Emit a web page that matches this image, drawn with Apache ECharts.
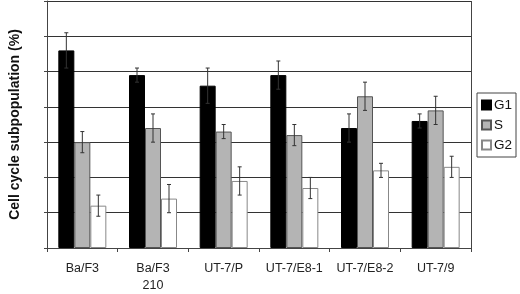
<!DOCTYPE html>
<html>
<head>
    <meta charset="utf-8">
    <title>Cell cycle</title>
    <script src="https://cdn.jsdelivr.net/npm/echarts@6/dist/echarts.min.js"></script>
    <style>
        html, body { margin: 0; padding: 0; background: #fff; }
        #chart1 { width: 520px; height: 294px; }
    </style>
</head>
<body>
<div id="chart1"></div>
<script type="text/javascript">
    // 数据
    var categories = ['Ba/F3', 'Ba/F3\n210', 'UT-7/P', 'UT-7/E8-1', 'UT-7/E8-2', 'UT-7/9'];
    var g1 = [56, 49, 46, 49, 34, 36];
    var g1Err = [5, 2, 5, 4, 4, 2];
    var s = [30, 34, 33, 32, 43, 39];
    var sErr = [3, 4, 2, 3, 4, 4];
    var g2 = [12, 14, 19, 17, 22, 23];
    var g2Err = [3, 4, 4, 3, 2, 3];
    var yTicks = [0, 10, 20, 30, 40, 50, 60, 70];

    var barW = 16;

    function errData(vals, errs) {
        return vals.map(function (v, i) { return [i, v - errs[i], v + errs[i]]; });
    }

    function errSeries(vals, errs, slot) {
        return {
            type: 'custom',
            z: 10,
            silent: true,
            renderItem: function (params, api) {
                var lo = api.coord([api.value(0), api.value(1)]);
                var hi = api.coord([api.value(0), api.value(2)]);
                var x = lo[0] + (slot - 1) * barW;
                var c = 2;
                var st = { stroke: '#333', lineWidth: 1 };
                return {
                    type: 'group',
                    children: [
                        { type: 'line', shape: { x1: x, y1: hi[1], x2: x, y2: lo[1] }, style: st },
                        { type: 'line', shape: { x1: x - c, y1: hi[1], x2: x + c, y2: hi[1] }, style: st },
                        { type: 'line', shape: { x1: x - c, y1: lo[1], x2: x + c, y2: lo[1] }, style: st }
                    ]
                };
            },
            encode: { x: 0, y: [1, 2] },
            data: errData(vals, errs)
        };
    }

    var myChart1 = echarts.init(document.getElementById('chart1'));
    myChart1.setOption({
        animation: false,
        textStyle: { fontFamily: 'Liberation Sans, Arial, sans-serif' },
        grid: { left: 38, right: 49, top: 1, bottom: 45 },
        legend: {
            orient: 'vertical',
            left: 477,
            top: 93,
            width: 42,
            padding: [5, 4, 5, 4],
            borderColor: '#444',
            borderWidth: 1,
            borderRadius: 0,
            itemWidth: 9,
            itemHeight: 9,
            itemGap: 6,
            icon: 'rect',
            textStyle: { fontSize: 13.5, color: '#111', padding: [0, 0, 0, -2] },
            data: ['G1', 'S', 'G2']
        },
        xAxis: {
            type: 'category',
            data: categories,
            axisLine: { lineStyle: { color: '#444' } },
            axisTick: { show: true, length: 4, lineStyle: { color: '#444' } },
            axisLabel: { interval: 0, fontSize: 12.5, color: '#222', margin: 12, lineHeight: 17 }
        },
        yAxis: {
            type: 'value',
            min: yTicks[0],
            max: yTicks[yTicks.length - 1],
            interval: 10,
            name: 'Cell cycle subpopulation (%)',
            nameLocation: 'middle',
            nameGap: 25,
            nameTextStyle: { fontSize: 14, fontWeight: 'bold', color: '#111' },
            axisLine: { show: true, lineStyle: { color: '#444' } },
            axisTick: { show: true, length: 3, lineStyle: { color: '#444' } },
            axisLabel: { show: false },
            splitLine: { lineStyle: { color: '#333', width: 1 } }
        },
        graphic: [{
            type: 'line',
            shape: { x1: 471.5, y1: 1, x2: 471.5, y2: 252 },
            style: { stroke: '#444', lineWidth: 1 }
        }],
        series: [
            {
                name: 'G1', type: 'bar', barWidth: barW, barGap: '0%',
                itemStyle: { color: '#000', borderColor: '#000', borderWidth: 1 },
                data: g1
            },
            {
                name: 'S', type: 'bar', barWidth: barW, barGap: '0%',
                itemStyle: { color: '#b4b4b4', borderColor: '#555', borderWidth: 1 },
                data: s
            },
            {
                name: 'G2', type: 'bar', barWidth: barW, barGap: '0%',
                itemStyle: { color: '#fff', borderColor: '#888', borderWidth: 1 },
                data: g2
            },
            errSeries(g1, g1Err, 0),
            errSeries(s, sErr, 1),
            errSeries(g2, g2Err, 2)
        ]
    });
</script>
</body>
</html>
